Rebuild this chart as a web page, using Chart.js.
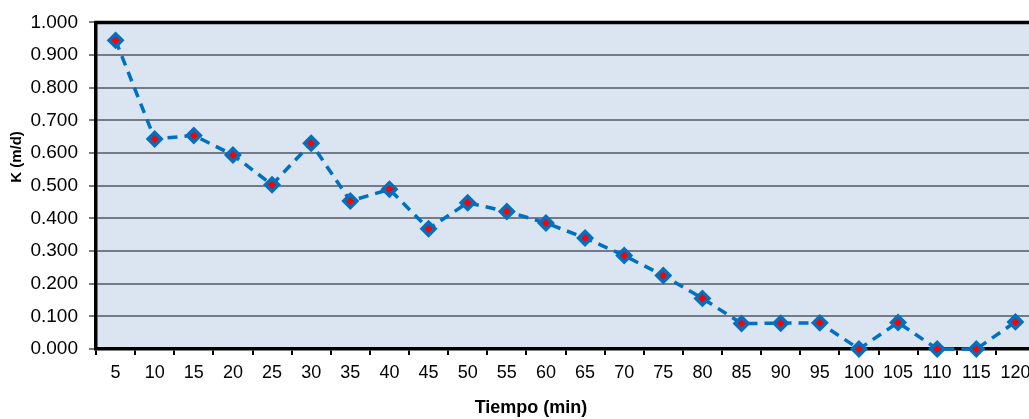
<!DOCTYPE html>
<html>
<head>
<meta charset="utf-8">
<script src="https://cdn.jsdelivr.net/npm/chart.js@4/dist/chart.umd.min.js"></script>
<style>
  html, body { margin: 0; padding: 0; background: #ffffff; overflow: hidden; }
  #wrap { position: relative; width: 1045px; height: 419px; }
</style>
</head>
<body>
<div id="wrap"><canvas id="c"></canvas></div>
<script>
const categories = ['5','10','15','20','25','30','35','40','45','50','55','60','65','70','75','80','85','90','95','100','105','110','115','120'];
const kValues = [0.945, 0.643, 0.654, 0.594, 0.503, 0.630, 0.453, 0.489, 0.368, 0.448, 0.421, 0.386, 0.340, 0.286, 0.225, 0.155, 0.078, 0.079, 0.080, 0.000, 0.081, 0.000, 0.000, 0.083];
const yTitle = 'K (m/d)';
const xTitle = 'Tiempo (min)';

const bgPlugin = {
  id: 'bgPlugin',
  beforeDraw(chart) {
    const { ctx, chartArea: a } = chart;
    ctx.save();
    ctx.fillStyle = '#dbe5f1';
    ctx.fillRect(a.left, a.top, a.right - a.left, a.bottom - a.top);
    ctx.restore();
  },
  afterDraw(chart) {
    const { ctx, chartArea: a } = chart;
    ctx.save();
    ctx.strokeStyle = '#000000';
    ctx.lineWidth = 3.5;
    ctx.beginPath();
    ctx.moveTo(a.left - 1.5, a.top);
    ctx.lineTo(a.right + 2, a.top);
    ctx.stroke();
    // axis titles
    ctx.fillStyle = '#000000';
    ctx.textAlign = 'center';
    ctx.textBaseline = 'middle';
    ctx.font = 'bold 18px "Liberation Sans"';
    ctx.fillText(xTitle, 531, 408);
    ctx.translate(17, 157);
    ctx.rotate(-Math.PI / 2);
    ctx.font = 'bold 15px "Liberation Sans"';
    ctx.fillText(yTitle, 0, 0);
    ctx.restore();
  }
};

new Chart(document.getElementById('c'), {
  type: 'line',
  data: {
    labels: categories,
    datasets: [{
      data: kValues,
      borderColor: '#0070c0',
      borderWidth: 3.5,
      borderDash: [10, 7],
      pointStyle: 'rectRot',
      pointRadius: 6.5,
      pointBorderWidth: 3.5,
      pointBorderColor: '#0070c0',
      pointBackgroundColor: '#ff0000',
      tension: 0,
      clip: false
    }]
  },
  options: {
    responsive: true,
    maintainAspectRatio: false,
    animation: false,
    layout: { padding: { top: 21, right: 8, left: 0, bottom: 0 } },
    plugins: { legend: { display: false }, tooltip: { enabled: false } },
    scales: {
      x: {
        type: 'category',
        offset: true,
        grid: { offset: true, drawOnChartArea: false, drawTicks: true, tickLength: 6, tickColor: '#000000', lineWidth: 2 },
        border: { color: '#000000', width: 3.5 },
        ticks: { color: '#000000', font: { family: 'Liberation Sans', size: 18 }, padding: 7, maxRotation: 0, autoSkip: false },
        afterFit(s) { s.height = 70; }
      },
      y: {
        min: 0,
        max: 1,
        ticks: { stepSize: 0.1, color: '#000000', font: { family: 'Liberation Sans', size: 19 }, padding: 11,
          callback: v => Number(v).toFixed(3) },
        grid: { color: '#757b86', lineWidth: 2, tickLength: 7, tickColor: '#757b86' },
        border: { color: '#000000', width: 3.5 },
        afterFit(s) { s.width = 96; }
      }
    }
  },
  plugins: [bgPlugin]
});
</script>
</body>
</html>
